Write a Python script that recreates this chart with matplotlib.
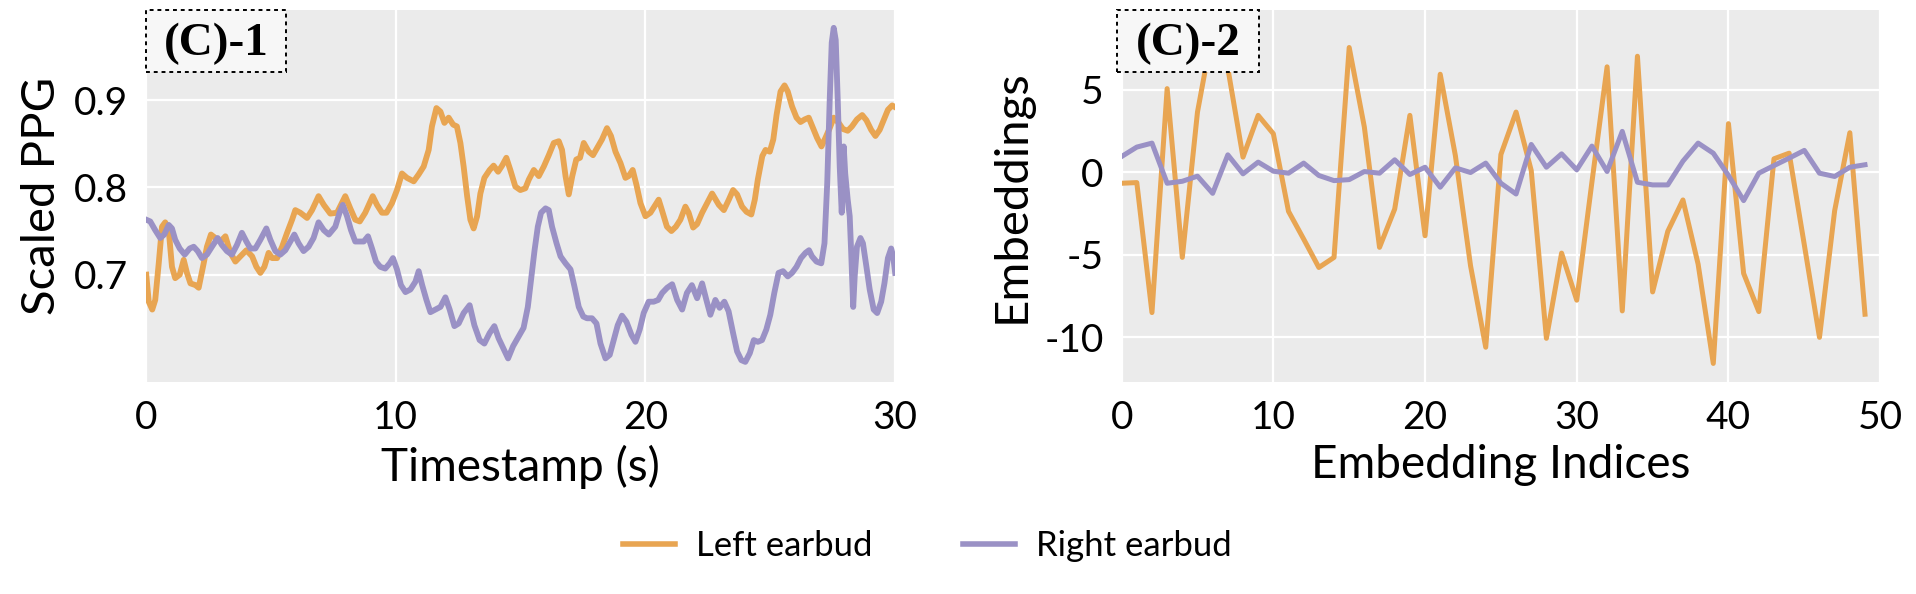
import matplotlib
matplotlib.use("Agg")
import matplotlib.pyplot as plt
from matplotlib.patches import Rectangle

# panel (C)-1 : scaled PPG over 30 s
left_t = [0.01, 0.11, 0.25, 0.37, 0.51, 0.64, 0.77, 0.91, 1.04, 1.17, 1.35, 1.51, 1.64, 1.78, 1.98, 2.11,
          2.31, 2.44, 2.60, 2.78, 2.98, 3.18, 3.38, 3.58, 3.78, 4.02, 4.25, 4.42, 4.58, 4.74, 4.91, 5.05,
          5.25, 5.45, 5.65, 5.85, 5.98, 6.18, 6.45, 6.65, 6.91, 7.12, 7.38, 7.65, 7.98, 8.18, 8.38, 8.56,
          8.78, 9.08, 9.25, 9.45, 9.63, 9.85, 10.05, 10.25, 10.45, 10.72, 10.92, 11.12, 11.32, 11.45, 11.63,
          11.79, 11.95, 12.12, 12.30, 12.45, 12.59, 12.72, 12.86, 12.99, 13.12, 13.26, 13.39, 13.55, 13.76,
          13.92, 14.10, 14.26, 14.43, 14.59, 14.79, 14.99, 15.19, 15.33, 15.53, 15.73, 15.93, 16.13, 16.33,
          16.53, 16.66, 16.80, 16.93, 17.07, 17.23, 17.38, 17.53, 17.73, 17.90, 18.10, 18.26, 18.46, 18.62,
          18.80, 19.00, 19.20, 19.33, 19.49, 19.64, 19.80, 20.00, 20.20, 20.40, 20.53, 20.66, 20.86, 21.04,
          21.22, 21.40, 21.60, 21.73, 21.91, 22.07, 22.27, 22.47, 22.67, 22.94, 23.14, 23.34, 23.51, 23.67,
          23.87, 24.05, 24.24, 24.38, 24.50, 24.68, 24.81, 24.98, 25.12, 25.25, 25.41, 25.57, 25.70, 25.87,
          26.05, 26.21, 26.38, 26.54, 26.71, 26.87, 27.05, 27.21, 27.38, 27.54, 27.74, 27.91, 28.10, 28.27,
          28.47, 28.68, 28.85, 29.04, 29.21, 29.38, 29.55, 29.71, 29.88, 30.0]
left_ppg = [0.700, 0.669, 0.660, 0.671, 0.713, 0.755, 0.760, 0.751, 0.709, 0.696, 0.700, 0.717, 0.702, 0.690,
            0.688, 0.685, 0.713, 0.732, 0.746, 0.742, 0.738, 0.744, 0.725, 0.715, 0.721, 0.728, 0.721, 0.709,
            0.702, 0.709, 0.725, 0.719, 0.719, 0.732, 0.748, 0.763, 0.774, 0.771, 0.765, 0.774, 0.790, 0.780,
            0.770, 0.771, 0.790, 0.776, 0.763, 0.761, 0.771, 0.790, 0.780, 0.771, 0.771, 0.782, 0.797, 0.816,
            0.811, 0.807, 0.815, 0.824, 0.843, 0.870, 0.891, 0.887, 0.874, 0.880, 0.872, 0.870, 0.851, 0.824,
            0.790, 0.763, 0.753, 0.767, 0.793, 0.811, 0.820, 0.825, 0.818, 0.825, 0.834, 0.820, 0.801, 0.797,
            0.799, 0.809, 0.820, 0.813, 0.824, 0.837, 0.851, 0.853, 0.843, 0.813, 0.792, 0.813, 0.832, 0.834,
            0.851, 0.841, 0.837, 0.847, 0.855, 0.868, 0.859, 0.841, 0.828, 0.811, 0.813, 0.820, 0.803, 0.782,
            0.767, 0.771, 0.780, 0.786, 0.774, 0.755, 0.750, 0.755, 0.763, 0.778, 0.771, 0.754, 0.758, 0.771,
            0.782, 0.793, 0.780, 0.774, 0.786, 0.797, 0.792, 0.778, 0.772, 0.769, 0.786, 0.809, 0.836, 0.843,
            0.841, 0.855, 0.883, 0.910, 0.917, 0.910, 0.893, 0.880, 0.875, 0.878, 0.880, 0.868, 0.857, 0.847,
            0.857, 0.868, 0.880, 0.874, 0.867, 0.865, 0.870, 0.878, 0.883, 0.877, 0.866, 0.859, 0.866, 0.878,
            0.889, 0.894, 0.892]

right_t = [0.01, 0.17, 0.37, 0.57, 0.73, 0.91, 1.04, 1.17, 1.35, 1.55, 1.75, 1.91, 2.07, 2.24, 2.44, 2.64,
           2.87, 3.04, 3.24, 3.44, 3.64, 3.84, 4.02, 4.18, 4.38, 4.58, 4.82, 4.98, 5.18, 5.38, 5.58, 5.78,
           5.94, 6.11, 6.31, 6.51, 6.71, 6.91, 7.12, 7.32, 7.58, 7.75, 7.88, 8.05, 8.21, 8.38, 8.56, 8.72,
           8.89, 9.05, 9.21, 9.38, 9.58, 9.76, 9.89, 10.05, 10.21, 10.39, 10.59, 10.79, 10.92, 11.06, 11.23,
           11.39, 11.59, 11.79, 11.99, 12.16, 12.35, 12.52, 12.72, 12.96, 13.15, 13.36, 13.55, 13.76, 13.95,
           14.12, 14.30, 14.50, 14.70, 14.92, 15.12, 15.29, 15.42, 15.56, 15.69, 15.82, 16.00, 16.13, 16.26,
           16.44, 16.60, 16.80, 17.00, 17.16, 17.33, 17.51, 17.66, 17.86, 18.04, 18.20, 18.40, 18.57, 18.73,
           18.89, 19.06, 19.24, 19.44, 19.60, 19.77, 19.93, 20.13, 20.33, 20.51, 20.67, 20.87, 21.07, 21.27,
           21.47, 21.66, 21.86, 22.07, 22.27, 22.44, 22.60, 22.80, 22.97, 23.16, 23.33, 23.51, 23.67, 23.84,
           24.00, 24.18, 24.34, 24.50, 24.67, 24.84, 25.00, 25.16, 25.33, 25.51, 25.70, 25.87, 26.05, 26.23,
           26.41, 26.55, 26.67, 26.85, 27.04, 27.17, 27.28, 27.38, 27.46, 27.54, 27.62, 27.70, 27.78, 27.86,
           27.90, 27.94, 28.00, 28.10, 28.18, 28.24, 28.32, 28.38, 28.47, 28.61, 28.71, 28.85, 28.98, 29.14,
           29.28, 29.44, 29.57, 29.71, 29.84, 29.92, 30.0]
right_ppg = [0.763, 0.761, 0.751, 0.742, 0.746, 0.757, 0.753, 0.740, 0.730, 0.723, 0.730, 0.732, 0.727, 0.719,
             0.723, 0.732, 0.742, 0.734, 0.727, 0.723, 0.734, 0.748, 0.738, 0.730, 0.730, 0.740, 0.753, 0.740,
             0.727, 0.723, 0.728, 0.738, 0.746, 0.736, 0.727, 0.732, 0.742, 0.760, 0.751, 0.746, 0.755, 0.771,
             0.780, 0.767, 0.751, 0.738, 0.738, 0.738, 0.744, 0.730, 0.715, 0.709, 0.707, 0.713, 0.719, 0.706,
             0.688, 0.680, 0.683, 0.692, 0.704, 0.688, 0.671, 0.657, 0.660, 0.663, 0.674, 0.660, 0.641, 0.644,
             0.656, 0.665, 0.642, 0.625, 0.621, 0.633, 0.641, 0.627, 0.616, 0.604, 0.618, 0.629, 0.639, 0.663,
             0.694, 0.728, 0.755, 0.771, 0.776, 0.774, 0.755, 0.736, 0.721, 0.713, 0.706, 0.686, 0.663, 0.652,
             0.650, 0.650, 0.644, 0.621, 0.604, 0.608, 0.625, 0.642, 0.653, 0.646, 0.631, 0.623, 0.637, 0.656,
             0.669, 0.669, 0.671, 0.679, 0.685, 0.689, 0.671, 0.660, 0.679, 0.688, 0.673, 0.690, 0.671, 0.654,
             0.671, 0.662, 0.669, 0.658, 0.633, 0.612, 0.602, 0.600, 0.610, 0.625, 0.623, 0.625, 0.637, 0.654,
             0.679, 0.702, 0.704, 0.698, 0.702, 0.709, 0.719, 0.725, 0.728, 0.721, 0.715, 0.713, 0.736, 0.805,
             0.901, 0.966, 0.983, 0.969, 0.901, 0.824, 0.771, 0.801, 0.847, 0.816, 0.786, 0.767, 0.725, 0.663,
             0.698, 0.732, 0.742, 0.736, 0.709, 0.683, 0.660, 0.656, 0.669, 0.690, 0.719, 0.730, 0.721, 0.702]

# panel (C)-2 : 50 embedding values per earbud
emb_idx = list(range(50))
left_emb = [-0.67, -0.63, -8.5, 5.06, -5.16, 3.64, 8.6, 6.3, 0.91, 3.44,
            2.33, -2.37, -4.05, -5.77, -5.16, 7.55, 2.73, -4.55, -2.23, 3.44,
            -3.85, 5.93, 1.0, -5.67, -10.6, 1.07, 3.64, 0.1, -10.06, -4.9,
            -7.75, -0.6, 6.38, -8.4, 7.02, -7.25, -3.58, -1.68, -5.57, -11.58,
            2.94, -6.13, -8.44, 0.81, 1.15, -4.4, -10.0, -2.33, 2.39, -8.6]
right_emb = [0.95, 1.52, 1.76, -0.67, -0.55, -0.24, -1.28, 1.05, -0.1, 0.61,
             0.06, -0.06, 0.55, -0.2, -0.51, -0.45, 0.04, -0.06, 0.75, -0.14,
             0.3, -0.91, 0.26, -0.02, 0.55, -0.67, -1.32, 1.68, 0.3, 1.11,
             0.14, 1.58, 0.04, 2.47, -0.61, -0.77, -0.77, 0.67, 1.76, 1.15,
             -0.2, -1.72, -0.06, 0.4, 0.85, 1.32, -0.06, -0.26, 0.3, 0.45]

series_names = ["Left earbud", "Right earbud"]
orange = "#E8A552"
purple = "#9A91C5"

plt.rcParams['font.family'] = ['Lato', 'DejaVu Sans']
plt.rcParams['axes.unicode_minus'] = False

fig = plt.figure(figsize=(19.16, 5.94), dpi=100)
ax1 = fig.add_axes([0.0762, 0.357, 0.391, 0.627])
ax2 = fig.add_axes([0.5854, 0.357, 0.3959, 0.627])


def style(ax):
    ax.set_facecolor("#EBEBEB")
    for s in ax.spines.values():
        s.set_visible(False)
    ax.grid(True, color="white", linewidth=1.6)
    ax.set_axisbelow(True)
    ax.tick_params(length=0, labelsize=28, pad=13)


def panel_label(ax, txt, x0):
    box = Rectangle((x0, 0.831), 0.187, 0.169, transform=ax.transAxes, facecolor="#F7F7F7",
                    edgecolor="black", linestyle=(0, (2, 2)), linewidth=1.4, clip_on=False, zorder=5)
    ax.add_patch(box)
    ax.text(x0 + 0.0935, 0.908, txt, transform=ax.transAxes, ha="center", va="center",
            fontsize=34, fontweight="bold", family=["Liberation Serif", "DejaVu Serif"], zorder=6)


style(ax1)
ax1.plot(left_t, left_ppg, color=orange, lw=4.2, label=series_names[0])
ax1.plot(right_t, right_ppg, color=purple, lw=4.2, label=series_names[1])
ax1.set_xlim(0, 30)
ax1.set_ylim(0.577, 1.004)
ax1.set_xticks([0, 10, 20, 30])
ax1.set_yticks([0.7, 0.8, 0.9])
ax1.set_xlabel("Timestamp (s)", fontsize=33, labelpad=6)
ax1.set_ylabel("Scaled PPG", fontsize=34, labelpad=8)
panel_label(ax1, "(C)-1", 0.0)

style(ax2)
ax2.plot(emb_idx, left_emb, color=orange, lw=3.6)
ax2.plot(emb_idx, right_emb, color=purple, lw=3.6)
ax2.set_xlim(0, 50)
ax2.set_ylim(-12.7, 9.85)
ax2.set_xticks([0, 10, 20, 30, 40, 50])
ax2.set_yticks([-10, -5, 0, 5])
ax2.set_xlabel("Embedding Indices", fontsize=33, labelpad=6)
ax2.set_ylabel("Embeddings", fontsize=34, labelpad=8)
panel_label(ax2, "(C)-2", -0.006)

leg = fig.legend(loc="center", bbox_to_anchor=(0.484, 0.081), ncol=2, frameon=False, fontsize=25,
                 handlelength=1.5, handletextpad=0.6, columnspacing=2.6)
for h in leg.get_lines():
    h.set_linewidth(4)

plt.savefig("out.png", dpi=100)
